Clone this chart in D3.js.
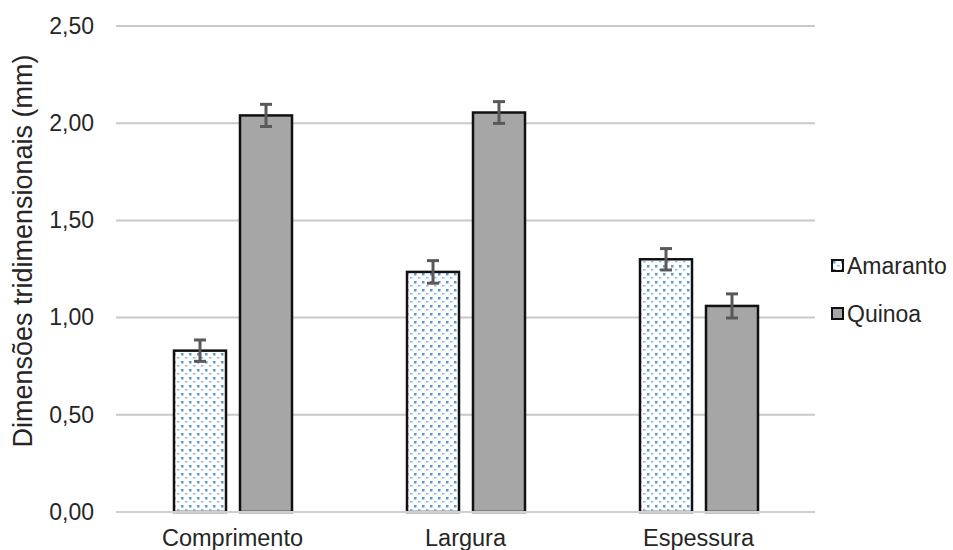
<!DOCTYPE html>
<html lang="pt">
<head>
<meta charset="utf-8">
<title>Dimensões tridimensionais</title>
<style>
    body, html { margin: 0; padding: 0; background: #fff; }
    svg { display: block; }
    text { font-family: "Liberation Sans", Arial, sans-serif; fill: #262626; }
    .grid line { stroke: #c9c9c9; stroke-width: 2px; }
</style>
<script src="https://d3js.org/d3.v7.min.js"></script>
</head>
<body>
<svg id="chart" width="953" height="550"></svg>
<script>
// data
var categories = ["Comprimento", "Largura", "Espessura"];
var series = ["Amaranto", "Quinoa"];
var amaranto = [0.83, 1.235, 1.30];
var quinoa = [2.04, 2.055, 1.06];
var amarantoErr = [0.055, 0.058, 0.055];
var quinoaErr = [0.057, 0.056, 0.062];
var yTicks = [0, 0.5, 1, 1.5, 2, 2.5];

var svg = d3.select("#chart");

var plotLeft = 116, plotRight = 815, plotTop = 26, plotBottom = 512;

var x0 = d3.scaleBand().domain(categories).range([plotLeft, plotRight]);
var x1 = d3.scaleBand().domain(series).range([58, 176]).paddingInner(0.212);
var y = d3.scaleLinear().domain([0, 2.5]).range([plotBottom, plotTop]);

var fmt = function(v) { return d3.format(".2f")(v).replace(".", ","); };

// dotted fill for Amaranto
var defs = svg.append("defs");
var pat = defs.append("pattern")
    .attr("id", "dots")
    .attr("patternUnits", "userSpaceOnUse")
    .attr("width", 8)
    .attr("height", 8);
pat.append("rect").attr("width", 8).attr("height", 8).attr("fill", "#fff");
pat.append("rect").attr("x", 1).attr("y", 1).attr("width", 2.5).attr("height", 2.5).attr("fill", "#5b9bd5");
pat.append("rect").attr("x", 5).attr("y", 5).attr("width", 2.5).attr("height", 1.5).attr("fill", "#8fb9e3");

// gridlines
svg.append("g").attr("class", "grid")
    .selectAll("line")
    .data(yTicks.filter(function(d) { return d > 0; }))
    .enter().append("line")
    .attr("x1", plotLeft).attr("x2", plotRight)
    .attr("y1", function(d) { return y(d); })
    .attr("y2", function(d) { return y(d); });

// y axis labels
var yAxis = d3.axisLeft(y).tickValues(yTicks).tickFormat(fmt).tickSize(0).tickPadding(22);
var gy = svg.append("g").attr("transform", "translate(" + plotLeft + ",0)").call(yAxis);
gy.select(".domain").remove();
gy.selectAll("text").style("font-size", "23px").attr("fill", "#262626")
    .style("font-family", '"Liberation Sans", Arial, sans-serif');

// y title
svg.append("text")
    .attr("transform", "translate(32,251) rotate(-90)")
    .attr("text-anchor", "middle")
    .style("font-size", "27px")
    .text("Dimensões tridimensionais (mm)");

// bars
var rows = categories.map(function(c, i) {
    return [
        { cat: c, s: "Amaranto", v: amaranto[i], e: amarantoErr[i] },
        { cat: c, s: "Quinoa", v: quinoa[i], e: quinoaErr[i] }
    ];
});

var groups = svg.selectAll("g.cat")
    .data(rows)
    .enter().append("g")
    .attr("class", "cat")
    .attr("transform", function(d, i) { return "translate(" + x0(categories[i]) + ",0)"; });

groups.selectAll("rect")
    .data(function(d) { return d; })
    .enter().append("rect")
    .attr("x", function(d) { return x1(d.s); })
    .attr("width", x1.bandwidth())
    .attr("y", function(d) { return y(d.v); })
    .attr("height", function(d) { return y(0) - y(d.v); })
    .attr("fill", function(d) { return d.s === "Amaranto" ? "url(#dots)" : "#a6a6a6"; })
    .attr("stroke", "#111")
    .attr("stroke-width", 2.5);

// error bars
var err = groups.selectAll("g.err")
    .data(function(d) { return d; })
    .enter().append("g")
    .attr("class", "err")
    .attr("stroke", "#595959")
    .attr("stroke-width", 3);
err.append("line")
    .attr("x1", function(d) { return x1(d.s) + x1.bandwidth() / 2; })
    .attr("x2", function(d) { return x1(d.s) + x1.bandwidth() / 2; })
    .attr("y1", function(d) { return y(d.v + d.e); })
    .attr("y2", function(d) { return y(d.v - d.e); });
err.selectAll("line.cap")
    .data(function(d) { return [d.v + d.e, d.v - d.e].map(function(v) { return { s: d.s, v: v }; }); })
    .enter().append("line")
    .attr("class", "cap")
    .attr("x1", function(d) { return x1(d.s) + x1.bandwidth() / 2 - 6; })
    .attr("x2", function(d) { return x1(d.s) + x1.bandwidth() / 2 + 6; })
    .attr("y1", function(d) { return y(d.v); })
    .attr("y2", function(d) { return y(d.v); });

// x axis
svg.append("line")
    .attr("x1", plotLeft).attr("x2", plotRight)
    .attr("y1", y(0)).attr("y2", y(0))
    .attr("stroke", "#d0d0d0").attr("stroke-width", 2);

svg.selectAll("text.cat")
    .data(categories)
    .enter().append("text")
    .attr("class", "cat")
    .attr("x", function(d) { return x0(d) + x0.bandwidth() / 2; })
    .attr("y", 546)
    .attr("text-anchor", "middle")
    .style("font-size", "23.5px")
    .text(function(d) { return d; });

// legend
var leg = svg.selectAll("g.leg")
    .data(series)
    .enter().append("g")
    .attr("class", "leg")
    .attr("transform", function(d, i) { return "translate(832," + (260 + i * 48) + ")"; });
leg.append("rect")
    .attr("width", 11).attr("height", 11)
    .attr("fill", function(d) { return d === "Amaranto" ? "url(#dots)" : "#a6a6a6"; })
    .attr("stroke", "#111").attr("stroke-width", 2);
leg.append("text")
    .attr("x", 15).attr("y", 14)
    .style("font-size", "23px")
    .text(function(d) { return d; });
</script>
</body>
</html>
